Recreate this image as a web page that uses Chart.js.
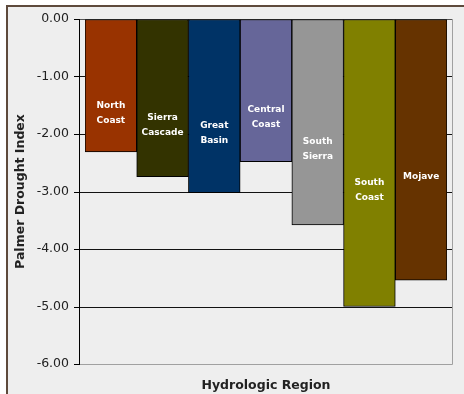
<!DOCTYPE html>
<html>
<head>
<meta charset="utf-8">
<script src="https://cdn.jsdelivr.net/npm/chart.js@4/dist/chart.umd.min.js"></script>
<style>
  html, body { margin: 0; padding: 0; background: #ffffff; }
  #wrap { width: 464px; height: 394px; position: relative; }
</style>
</head>
<body>
<div id="wrap"><canvas id="pdsi" width="464" height="394"></canvas></div>
<script>
// Hydrologic regions (multi-line names drawn inside each bar)
const regions = [
  ["North", "Coast"],
  ["Sierra", "Cascade"],
  ["Great", "Basin"],
  ["Central", "Coast"],
  ["South", "Sierra"],
  ["South", "Coast"],
  ["Mojave"]
];

// Palmer Drought Index per region
const pdsiValues = [-2.31, -2.74, -3.02, -2.48, -3.58, -5.00, -4.54];

// Y-axis tick values and their labels
const yTickValues = [0, -1, -2, -3, -4, -5, -6];
const yTickLabels = ["0.00", "-1.00", "-2.00", "-3.00", "-4.00", "-5.00", "-6.00"];

const regionColors = ["#993300", "#333300", "#003366", "#666699", "#969696", "#808000", "#663300"];

const FONT = "'DejaVu Sans', Verdana, sans-serif";
const AXIS_X = 79;       // y-axis line position
const TICK_START = 74;   // left end of tick marks
const FRAME_RIGHT = 452; // right edge of plot frame

// Page background and the outer chart frame
const backgroundPlugin = {
  id: 'panelBackground',
  beforeDraw(chart) {
    const ctx = chart.ctx;
    ctx.save();
    ctx.fillStyle = '#ffffff';
    ctx.fillRect(0, 0, chart.width, chart.height);
    ctx.fillStyle = '#eeeeee';
    ctx.fillRect(8, 7, chart.width - 8, chart.height - 7);
    ctx.strokeStyle = '#5e4a3c';
    ctx.lineWidth = 2;
    ctx.beginPath();
    ctx.moveTo(7, chart.height);
    ctx.lineTo(7, 6);
    ctx.lineTo(chart.width, 6);
    ctx.stroke();
    ctx.restore();
  }
};

// Tick marks, horizontal grid lines across the plot frame, axis line and frame edges
const gridPlugin = {
  id: 'plotGrid',
  beforeDatasetsDraw(chart) {
    const ctx = chart.ctx;
    const y = chart.scales.y;
    const top = Math.round(y.getPixelForValue(0)) + 0.5;
    const bottom = Math.round(y.getPixelForValue(-6)) + 0.5;
    ctx.save();
    ctx.lineWidth = 1;
    yTickValues.forEach(v => {
      const py = Math.round(y.getPixelForValue(v)) + 0.5;
      // tick mark
      ctx.strokeStyle = '#000000';
      ctx.beginPath();
      ctx.moveTo(TICK_START, py);
      ctx.lineTo(AXIS_X + 1, py);
      ctx.stroke();
      // grid line
      ctx.strokeStyle = v === 0 ? '#555555' : (v === -6 ? '#a0a0a0' : '#111111');
      ctx.beginPath();
      ctx.moveTo(AXIS_X + 1, py);
      ctx.lineTo(FRAME_RIGHT + 0.5, py);
      ctx.stroke();
    });
    ctx.strokeStyle = '#a0a0a0';
    ctx.beginPath();
    ctx.moveTo(FRAME_RIGHT + 0.5, top);
    ctx.lineTo(FRAME_RIGHT + 0.5, bottom);
    ctx.stroke();
    ctx.restore();
  },
  afterDatasetsDraw(chart) {
    const ctx = chart.ctx;
    const y = chart.scales.y;
    ctx.save();
    ctx.strokeStyle = '#000000';
    ctx.lineWidth = 1;
    ctx.beginPath();
    ctx.moveTo(AXIS_X + 0.5, Math.round(y.getPixelForValue(0)));
    ctx.lineTo(AXIS_X + 0.5, Math.round(y.getPixelForValue(-6)) + 1);
    ctx.stroke();
    ctx.restore();
  }
};

// Region names written in white inside each bar
const barLabelPlugin = {
  id: 'barNames',
  afterDatasetsDraw(chart) {
    const ctx = chart.ctx;
    const meta = chart.getDatasetMeta(0);
    ctx.save();
    ctx.fillStyle = '#ffffff';
    ctx.font = 'bold 9px ' + FONT;
    ctx.textAlign = 'center';
    ctx.textBaseline = 'middle';
    const lineH = 15;
    meta.data.forEach((bar, i) => {
      const lines = chart.data.labels[i];
      const mid = (bar.y + bar.base) / 2 + 27;
      const start = mid - (lines.length - 1) * lineH / 2;
      lines.forEach((t, k) => ctx.fillText(t, bar.x, start + k * lineH));
    });
    ctx.restore();
  }
};

new Chart(document.getElementById('pdsi'), {
  type: 'bar',
  data: {
    labels: regions,
    datasets: [{
      data: pdsiValues,
      backgroundColor: regionColors,
      borderColor: '#000000',
      borderWidth: 1,
      borderSkipped: false,
      categoryPercentage: 1.0,
      barPercentage: 1.0
    }]
  },
  options: {
    responsive: false,
    animation: false,
    devicePixelRatio: 1,
    layout: { padding: { left: 8, top: 19, right: 17, bottom: 0 } },
    plugins: {
      legend: { display: false },
      tooltip: { enabled: false },
      title: { display: false }
    },
    scales: {
      x: {
        type: 'category',
        grid: { display: false },
        border: { display: false },
        ticks: { display: false },
        title: {
          display: true,
          text: 'Hydrologic Region',
          color: '#222222',
          font: { family: FONT, size: 12.5, weight: 'bold', lineHeight: 1.2 },
          padding: { top: 0, bottom: 0.5 }
        },
        afterFit(scale) { scale.height = 30; }
      },
      y: {
        min: -6,
        max: 0,
        afterBuildTicks(scale) {
          scale.ticks = yTickValues.slice().reverse().map(v => ({ value: v }));
        },
        ticks: {
          color: '#222222',
          font: { family: FONT, size: 12.5 },
          padding: 5,
          callback: (v) => yTickLabels[yTickValues.indexOf(v)]
        },
        grid: {
          display: true,
          drawOnChartArea: false,
          drawTicks: true,
          tickLength: 11,
          color: 'rgba(0,0,0,0)',
          tickColor: 'rgba(0,0,0,0)'
        },
        border: { display: false },
        title: {
          display: true,
          text: 'Palmer Drought Index',
          color: '#222222',
          font: { family: FONT, size: 12.5, weight: 'bold', lineHeight: 1.2 },
          padding: { top: 5, bottom: 0 }
        },
        afterFit(scale) { scale.width = 77; }
      }
    }
  },
  plugins: [backgroundPlugin, gridPlugin, barLabelPlugin]
});
</script>
</body>
</html>
